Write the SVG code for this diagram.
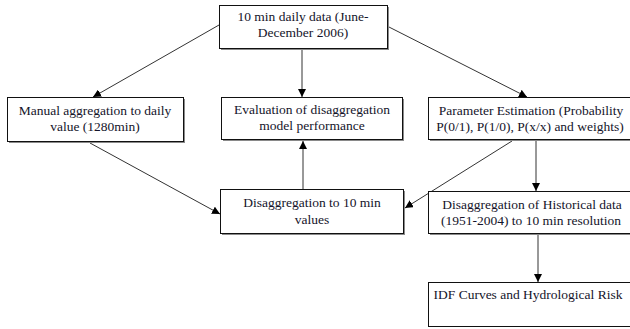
<svg xmlns="http://www.w3.org/2000/svg" width="630" height="329" viewBox="0 0 630 329">
<style>
.box{fill:#fff;stroke:#111;stroke-width:1}
.sh{fill:#8a8a8a}
text{font-family:'Liberation Serif','Times New Roman','DejaVu Serif',serif;font-size:13.5px;fill:#14142a;text-anchor:middle}
.c{stroke:#333;stroke-width:1;fill:none;marker-end:url(#ah)}
</style>
<defs>
<marker id="ah" viewBox="0 0 10 10" refX="10" refY="5" markerWidth="8" markerHeight="8" markerUnits="userSpaceOnUse" orient="auto">
<path d="M0,0 L10,5 L0,10 z" fill="#000"/>
</marker>
</defs>
<rect width="630" height="329" fill="#fff"/>
<g id="connectors">
<line class="c" x1="219" y1="25" x2="93" y2="97"/>
<line class="c" x1="387" y1="26" x2="527" y2="97"/>
<line class="c" x1="302" y1="49" x2="302" y2="97"/>
<line class="c" x1="90" y1="143" x2="220" y2="214"/>
<line class="c" x1="512" y1="141" x2="405" y2="208"/>
<line class="c" x1="536" y1="141" x2="536" y2="191"/>
<line class="c" x1="303" y1="189" x2="303" y2="141"/>
<line class="c" x1="538" y1="235" x2="538" y2="282"/>
</g>
<g id="n1">
<rect class="sh" x="221" y="7" width="168" height="43"/>
<rect class="box" x="219.5" y="5.5" width="168" height="43"/>
<text x="303" y="21">10 min daily data (June-</text>
<text x="303" y="37">December 2006)</text>
</g>
<g id="n2">
<rect class="sh" x="9" y="99" width="176" height="44"/>
<rect class="box" x="7.5" y="97.5" width="176" height="44"/>
<text x="95" y="115">Manual aggregation to daily</text>
<text x="95" y="131">value (1280min)</text>
</g>
<g id="n3">
<rect class="sh" x="223" y="99" width="181" height="42"/>
<rect class="box" x="221.5" y="97.5" width="181" height="42"/>
<text x="312" y="114">Evaluation of disaggregation</text>
<text x="312" y="130">model performance</text>
</g>
<g id="n4">
<rect class="sh" x="430" y="99" width="210" height="42"/>
<rect class="box" x="428.5" y="97.5" width="210" height="42"/>
<text x="531" y="115">Parameter Estimation (Probability</text>
<text x="530" y="131">P(0/1), P(1/0), P(x/x) and weights)</text>
</g>
<g id="n5">
<rect class="sh" x="222" y="191" width="183" height="44"/>
<rect class="box" x="220.5" y="189.5" width="183" height="44"/>
<text x="312" y="207">Disaggregation to 10 min</text>
<text x="312" y="224">values</text>
</g>
<g id="n6">
<rect class="sh" x="430" y="193" width="210" height="42"/>
<rect class="box" x="428.5" y="191.5" width="210" height="42"/>
<text x="532" y="209">Disaggregation of Historical data</text>
<text x="531" y="225">(1951-2004) to 10 min resolution</text>
</g>
<g id="n7">
<rect class="box" x="428.5" y="282.5" width="210" height="44"/>
<text x="528" y="299">IDF Curves and Hydrological Risk</text>
</g>
</svg>
